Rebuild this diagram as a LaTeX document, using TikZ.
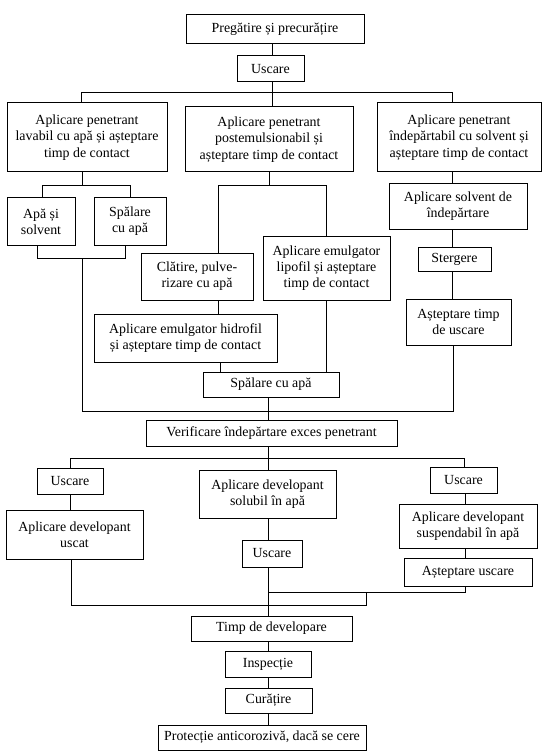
\documentclass[tikz,border=0pt]{standalone}
\usepackage{fontspec}
\setmainfont{Liberation Serif}
\newcommand\diafont{\fontsize{13.9}{16.2}\selectfont}
\begin{document}
\begin{tikzpicture}[x=1pt,y=-1pt,
  box/.style={draw,line width=1pt,align=center,inner sep=1pt,font=\diafont},
  ln/.style={line width=1pt}]
\fill[white] (0,0) rectangle (550,751);
\useasboundingbox (0,0) rectangle (550,751);
% nodes
\node[box,minimum width=178,minimum height=29] (prep) at (275,29.5) {Pregătire și precurățire};
\node[box,minimum width=67,minimum height=26] (usc1) at (270.5,69) {Uscare};
\node[box,minimum width=160,minimum height=69] (pl) at (87,137.5) {Aplicare penetrant\\lavabil cu apă și așteptare\\timp de contact};
\node[box,minimum width=168,minimum height=65] (pm) at (269,139.5) {Aplicare penetrant\\postemulsionabil și\\așteptare timp de contact};
\node[box,minimum width=164,minimum height=69] (pr) at (459,137.5) {Aplicare penetrant\\îndepărtabil cu solvent și\\așteptare timp de contact};
\node[box,minimum width=68,minimum height=47] (apa) at (41,221.5) {Apă și\\solvent};
\node[box,minimum width=72,minimum height=47] (spl1) at (130,221.5) {Spălare\\cu apă};
\node[box,minimum width=112,minimum height=47] (clat) at (197,276.5) {Clătire, pulve-\\rizare cu apă};
\node[box,minimum width=127,minimum height=64] (lip) at (326.5,268) {Aplicare emulgator\\lipofil și așteptare\\timp de contact};
\node[box,minimum width=183,minimum height=48] (hid) at (185.5,338) {Aplicare emulgator hidrofil\\și așteptare timp de contact};
\node[box,minimum width=136,minimum height=25] (spl2) at (271,384.5) {Spălare cu apă};
\node[box,minimum width=138,minimum height=45] (solv) at (458,206.5) {Aplicare solvent de\\îndepărtare};
\node[box,minimum width=73,minimum height=24] (sterg) at (454.5,259) {Stergere};
\node[box,minimum width=105,minimum height=46] (astt) at (458.5,322) {Așteptare timp\\de uscare};
\node[box,minimum width=251,minimum height=26] (verif) at (271.5,433) {Verificare îndepărtare exces penetrant};
\node[box,minimum width=66,minimum height=26] (uscL) at (70,481) {Uscare};
\node[box,minimum width=137,minimum height=49] (devu) at (74.5,534.5) {Aplicare developant\\uscat};
\node[box,minimum width=137,minimum height=48] (devs) at (267.5,494) {Aplicare developant\\solubil în apă};
\node[box,minimum width=60,minimum height=27] (uscM) at (272,553.5) {Uscare};
\node[box,minimum width=67,minimum height=26] (uscR) at (463.5,480) {Uscare};
\node[box,minimum width=138,minimum height=44] (devp) at (468,526) {Aplicare developant\\suspendabil în apă};
\node[box,minimum width=128,minimum height=28] (astu) at (468,572) {Așteptare uscare};
\node[box,minimum width=161,minimum height=25] (timp) at (271.5,628.5) {Timp de developare};
\node[box,minimum width=86,minimum height=26] (insp) at (268,664) {Inspecție};
\node[box,minimum width=87,minimum height=25] (cur) at (268.5,700.5) {Curățire};
\node[box,minimum width=208,minimum height=25] (prot) at (262,737.5) {Protecție anticorozivă, dacă se cere};
% top
\coordinate (j1) at (272,93);
\draw[ln] (prep.south -| j1) -- (usc1.north -| j1);
\draw[ln] (usc1.south -| j1) -- (pm.north -| j1);
\coordinate (tl) at (81,93); \coordinate (tr) at (452.5,93);
\draw[ln] (pl.north -| tl) |- (tr) -- (pr.north -| tr);
% left branch
\coordinate (a1) at (82,186); \coordinate (a2) at (42,186); \coordinate (a3) at (130,186);
\draw[ln] (pl.south -| a1) -- (a1);
\draw[ln] (apa.north -| a2) |- (a3) -- (spl1.north -| a3);
\coordinate (b1) at (37,258); \coordinate (b2) at (125,258); \coordinate (b3) at (82,258);
\draw[ln] (apa.south -| b1) |- (b2) -- (spl1.south -| b2);
\coordinate (c1) at (82,411); \coordinate (c2) at (453,411);
\draw[ln] (b3) -- (c1) -- (c2) -- (astt.south -| c2);
% middle branch
\coordinate (m1) at (269,186); \coordinate (m2) at (218,186); \coordinate (m3) at (326,186);
\draw[ln] (pm.south -| m1) -- (m1);
\draw[ln] (clat.north -| m2) |- (m3) -- (lip.north -| m3);
\draw[ln] (clat.south -| m2) -- (hid.north -| m2);
\coordinate (m4) at (220,0);
\draw[ln] (hid.south -| m4) -- (spl2.north -| m4);
\draw[ln] (lip.south -| m3) -- (spl2.north -| m3);
\coordinate (ax) at (268,0);
\draw[ln] (spl2.south -| ax) -- (verif.north -| ax);
% right branch
\coordinate (r1) at (452.5,0);
\draw[ln] (pr.south -| r1) -- (solv.north -| r1);
\draw[ln] (solv.south -| r1) -- (sterg.north -| r1);
\draw[ln] (sterg.south -| r1) -- (astt.north -| r1);
% developing
\coordinate (d1) at (70,458); \coordinate (d2) at (464,458);
\draw[ln] (verif.south -| ax) -- (devs.north -| ax);
\draw[ln] (uscL.north -| d1) |- (d2) -- (uscR.north -| d2);
\draw[ln] (uscL.south -| d1) -- (devu.north -| d1);
\draw[ln] (devs.south -| ax) -- (uscM.north -| ax);
\draw[ln] (uscM.south -| ax) -- (timp.north -| ax);
\coordinate (e1) at (465,592);
\draw[ln] (uscR.south -| e1) -- (devp.north -| e1);
\draw[ln] (devp.south -| e1) -- (astu.north -| e1);
\draw[ln] (astu.south -| e1) -- (e1) -- (e1 -| ax);
\coordinate (f1) at (71,605); \coordinate (f2) at (366,605); \coordinate (f3) at (366,592);
\draw[ln] (devu.south -| f1) -- (f1) -- (f2) -- (f3);
% bottom chain
\draw[ln] (timp.south -| ax) -- (insp.north -| ax);
\draw[ln] (insp.south -| ax) -- (cur.north -| ax);
\draw[ln] (cur.south -| ax) -- (prot.north -| ax);
\end{tikzpicture}
\end{document}
